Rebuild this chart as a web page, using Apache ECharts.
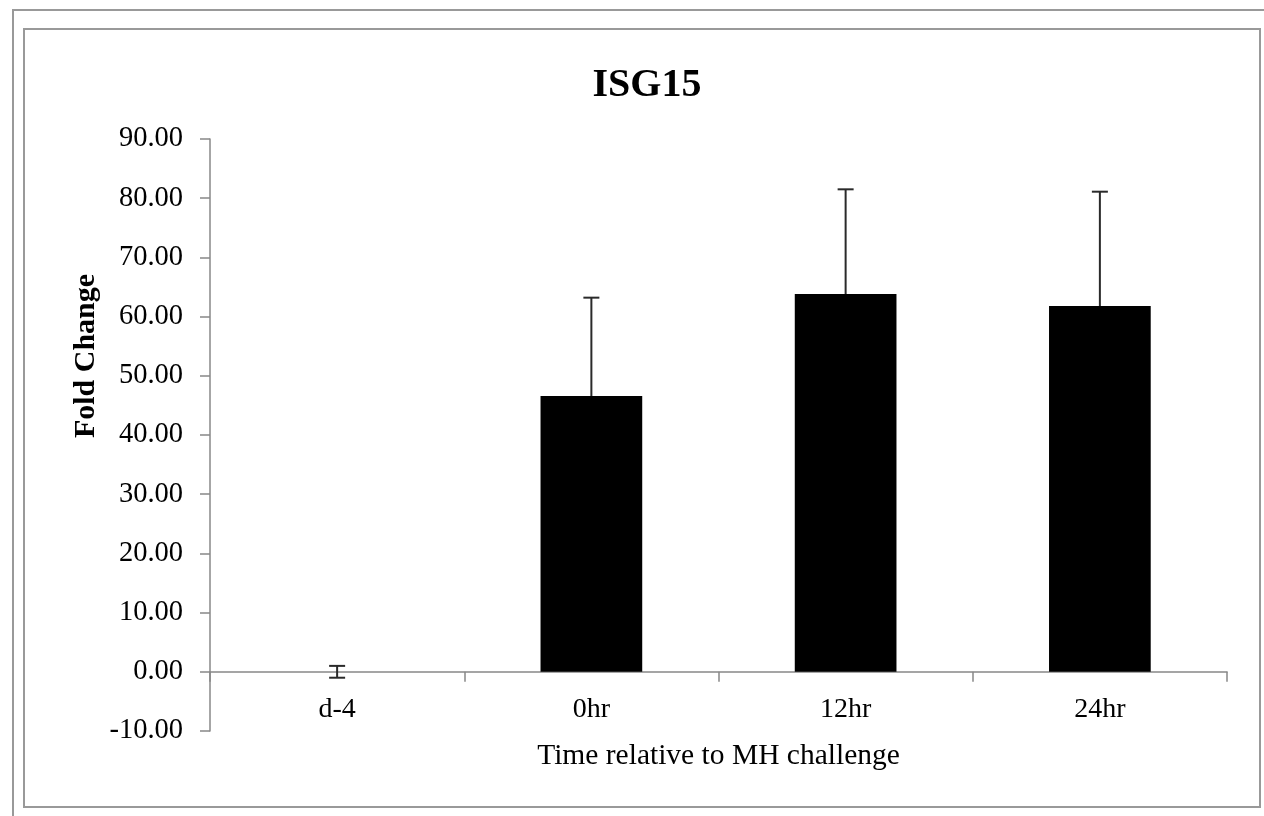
<!DOCTYPE html>
<html>
<head>
<meta charset="utf-8">
<script src="https://cdn.jsdelivr.net/npm/echarts@6/dist/echarts.min.js"></script>
<style>html,body{margin:0;padding:0;background:#fff;}#c{width:1264px;height:816px;}</style>
</head>
<body>
<div id="c"></div>
<script>
const categories = ['d-4', '0hr', '12hr', '24hr'];
const foldChange = [0.0, 46.6, 63.8, 61.8];
const errorSD = [1.0, 16.6, 17.7, 19.3];
const yTicks = { min: -10, max: 90, interval: 10 };

const chart = echarts.init(document.getElementById('c'));
const serif = '"Liberation Serif", "Times New Roman", serif';
chart.setOption({
  animation: false,
  backgroundColor: '#fff',
  title: {
    text: 'ISG15', left: 642, textAlign: 'center', top: 61,
    textStyle: { fontFamily: serif, fontWeight: 'bold', fontSize: 40, color: '#000' }
  },
  grid: { left: 210, right: 37, top: 139, bottom: 85, containLabel: false, outerBoundsMode: 'none' },
  xAxis: {
    type: 'category', data: categories,
    name: 'Time relative to MH challenge', nameLocation: 'middle', nameGap: 10,
    nameTextStyle: { fontFamily: serif, fontSize: 29.5, color: '#000' },
    axisLine: { onZero: true, lineStyle: { color: '#888', width: 1.5 } },
    axisTick: { show: true, alignWithLabel: false, length: 10, lineStyle: { color: '#888', width: 1.5 } },
    axisLabel: { fontFamily: serif, fontSize: 28, color: '#000', margin: -35 }
  },
  yAxis: {
    type: 'value', min: yTicks.min, max: yTicks.max, interval: yTicks.interval,
    axisLine: { show: true, lineStyle: { color: '#888', width: 1.5 } },
    axisTick: { show: true, length: 10, lineStyle: { color: '#888', width: 1.5 } },
    splitLine: { show: false },
    axisLabel: { fontFamily: serif, fontSize: 28.5, color: '#000', margin: 27, formatter: v => v.toFixed(2) }
  },
  graphic: [
    { type: 'rect', shape: { x: 13, y: 10, width: 1300, height: 900 }, style: { fill: null, stroke: '#999', lineWidth: 2 }, silent: true },
    { type: 'rect', shape: { x: 24, y: 29, width: 1236, height: 778 }, style: { fill: null, stroke: '#999', lineWidth: 2 }, silent: true },
    { type: 'text', x: 86, y: 356, rotation: Math.PI / 2,
      style: { text: 'Fold Change', fontFamily: serif, fontWeight: 'bold', fontSize: 30, fill: '#000', align: 'center', verticalAlign: 'middle' } }
  ],
  series: [
    {
      type: 'bar', data: foldChange, barCategoryGap: '60%',
      itemStyle: { color: '#000' }, z: 3
    },
    {
      type: 'custom', z: 2,
      data: foldChange.map((v, i) => [i, v, errorSD[i]]),
      renderItem: function (params, api) {
        const i = api.value(0), v = api.value(1), e = api.value(2);
        const top = api.coord([i, v + e]);
        const bot = api.coord([i, v - e]);
        const half = 8;
        const style = { stroke: '#2a2a2a', lineWidth: 2 };
        return {
          type: 'group',
          children: [
            { type: 'line', shape: { x1: top[0], y1: top[1], x2: bot[0], y2: bot[1] }, style },
            { type: 'line', shape: { x1: top[0] - half, y1: top[1], x2: top[0] + half, y2: top[1] }, style },
            { type: 'line', shape: { x1: bot[0] - half, y1: bot[1], x2: bot[0] + half, y2: bot[1] }, style }
          ]
        };
      }
    }
  ]
});
</script>
</body>
</html>
